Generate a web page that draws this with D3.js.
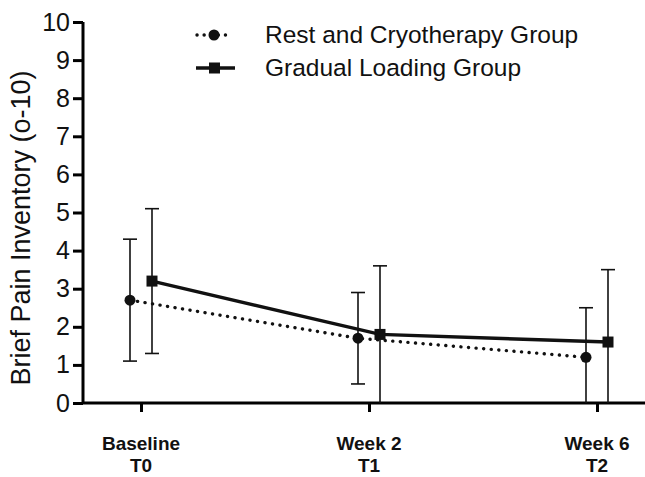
<!DOCTYPE html>
<html>
<head>
<meta charset="utf-8">
<script src="https://cdn.jsdelivr.net/npm/d3@7"></script>
<style>
  body { margin: 0; background: #fff; }
  text { font-family: "Liberation Sans", Arial, sans-serif; }
</style>
</head>
<body>
<script>
// data
const timepoints = ['Baseline|T0', 'Week 2|T1', 'Week 6|T2']
const restMean = [2.7, 1.7, 1.2]
const restLow = [1.1, 0.5, 0]
const restHigh = [4.3, 2.9, 2.5]
const loadMean = [3.2, 1.8, 1.6]
const loadLow = [1.3, 0, 0]
const loadHigh = [5.1, 3.6, 3.5]
const yTicks = [0, 1, 2, 3, 4, 5, 6, 7, 8, 9, 10]

const m = { width: 645, height: 477, left: 83, top: 22, bottom: 403 }

const svg = d3.select('body').append('svg')
    .attr('width', m.width)
    .attr('height', m.height)

const x = d3.scalePoint()
    .domain(timepoints)
    .range([141, 597])

const y = d3.scaleLinear()
    .domain([0, 10])
    .range([m.bottom, m.top])

// y axis
const yAxis = svg.append('g')
    .attr('transform', `translate(${m.left},0)`)
    .call(d3.axisLeft(y).tickValues(yTicks).tickSize(10).tickPadding(3))
yAxis.select('.domain').attr('stroke-width', 3).attr('d', `M0,${m.bottom}V${m.top}`)
yAxis.selectAll('.tick line').attr('stroke-width', 3)
yAxis.selectAll('.tick text')
    .attr('font-size', 25)
    .attr('fill', '#111')
    .style('font-family', '"Liberation Sans", Arial, sans-serif')

// x axis
const xAxis = svg.append('g')
    .attr('transform', `translate(0,${m.bottom})`)
    .call(d3.axisBottom(x).tickSize(9).tickFormat(''))
xAxis.select('.domain').attr('stroke-width', 3).attr('d', `M${m.left},0H${m.width}`)
xAxis.selectAll('.tick line').attr('stroke-width', 3)

// two-line bold category labels
timepoints.forEach(t => {
    const parts = t.split('|')
    const lbl = svg.append('text')
        .attr('x', x(t))
        .attr('text-anchor', 'middle')
        .attr('font-size', 19)
        .attr('font-weight', 'bold')
        .attr('fill', '#111')
    lbl.append('tspan').attr('x', x(t)).attr('y', 450).text(parts[0])
    lbl.append('tspan').attr('x', x(t)).attr('y', 472).text(parts[1])
})

// y axis title
svg.append('text')
    .attr('transform', `translate(30, 228)rotate(-90)`)
    .attr('text-anchor', 'middle')
    .attr('font-size', 27)
    .attr('fill', '#111')
    .text('Brief Pain Inventory (o-10)')

// series
const groups = [
    { mean: restMean, low: restLow, high: restHigh, dx: -11, dash: '0.1 7.5', shape: 'circle' },
    { mean: loadMean, low: loadLow, high: loadHigh, dx: 11, dash: null, shape: 'square' }
]

groups.forEach(g => {
    const pts = timepoints.map((t, i) => ({
        x: x(t) + g.dx, m: g.mean[i], lo: g.low[i], hi: g.high[i]
    }))

    // error bars
    const eb = svg.append('g').attr('stroke', '#111').attr('stroke-width', 1.6)
    pts.forEach(p => {
        eb.append('line')
            .attr('x1', p.x).attr('x2', p.x)
            .attr('y1', y(p.lo)).attr('y2', y(p.hi))
        eb.append('line')
            .attr('x1', p.x - 7).attr('x2', p.x + 7)
            .attr('y1', y(p.hi)).attr('y2', y(p.hi))
        if (p.lo > 0) {
            eb.append('line')
                .attr('x1', p.x - 7).attr('x2', p.x + 7)
                .attr('y1', y(p.lo)).attr('y2', y(p.lo))
        }
    })

    // line
    svg.append('path')
        .datum(pts)
        .attr('fill', 'none')
        .attr('stroke', '#111')
        .attr('stroke-width', 3.4)
        .attr('stroke-linecap', g.dash ? 'round' : 'butt')
        .attr('stroke-dasharray', g.dash)
        .attr('d', d3.line().x(d => d.x).y(d => y(d.m)))

    // markers
    if (g.shape === 'circle') {
        svg.selectAll(null).data(pts).join('circle')
            .attr('cx', d => d.x).attr('cy', d => y(d.m))
            .attr('r', 5.5).attr('fill', '#111')
    } else {
        svg.selectAll(null).data(pts).join('rect')
            .attr('x', d => d.x - 5.5).attr('y', d => y(d.m) - 5.5)
            .attr('width', 11).attr('height', 11).attr('fill', '#111')
    }
})

// legend
const legend = svg.append('g')
legend.append('line')
    .attr('x1', 197).attr('x2', 232).attr('y1', 35).attr('y2', 35)
    .attr('stroke', '#111').attr('stroke-width', 3.4)
    .attr('stroke-linecap', 'round').attr('stroke-dasharray', '0.1 7')
legend.append('circle').attr('cx', 214).attr('cy', 35).attr('r', 5.5).attr('fill', '#111')
legend.append('text').attr('x', 265).attr('y', 43).attr('font-size', 24.5).attr('fill', '#111')
    .text('Rest and Cryotherapy Group')

legend.append('line')
    .attr('x1', 196).attr('x2', 235).attr('y1', 68).attr('y2', 68)
    .attr('stroke', '#111').attr('stroke-width', 3.4)
legend.append('rect').attr('x', 209).attr('y', 62.5).attr('width', 11).attr('height', 11).attr('fill', '#111')
legend.append('text').attr('x', 265).attr('y', 76).attr('font-size', 24.5).attr('fill', '#111')
    .text('Gradual Loading Group')
</script>
</body>
</html>
